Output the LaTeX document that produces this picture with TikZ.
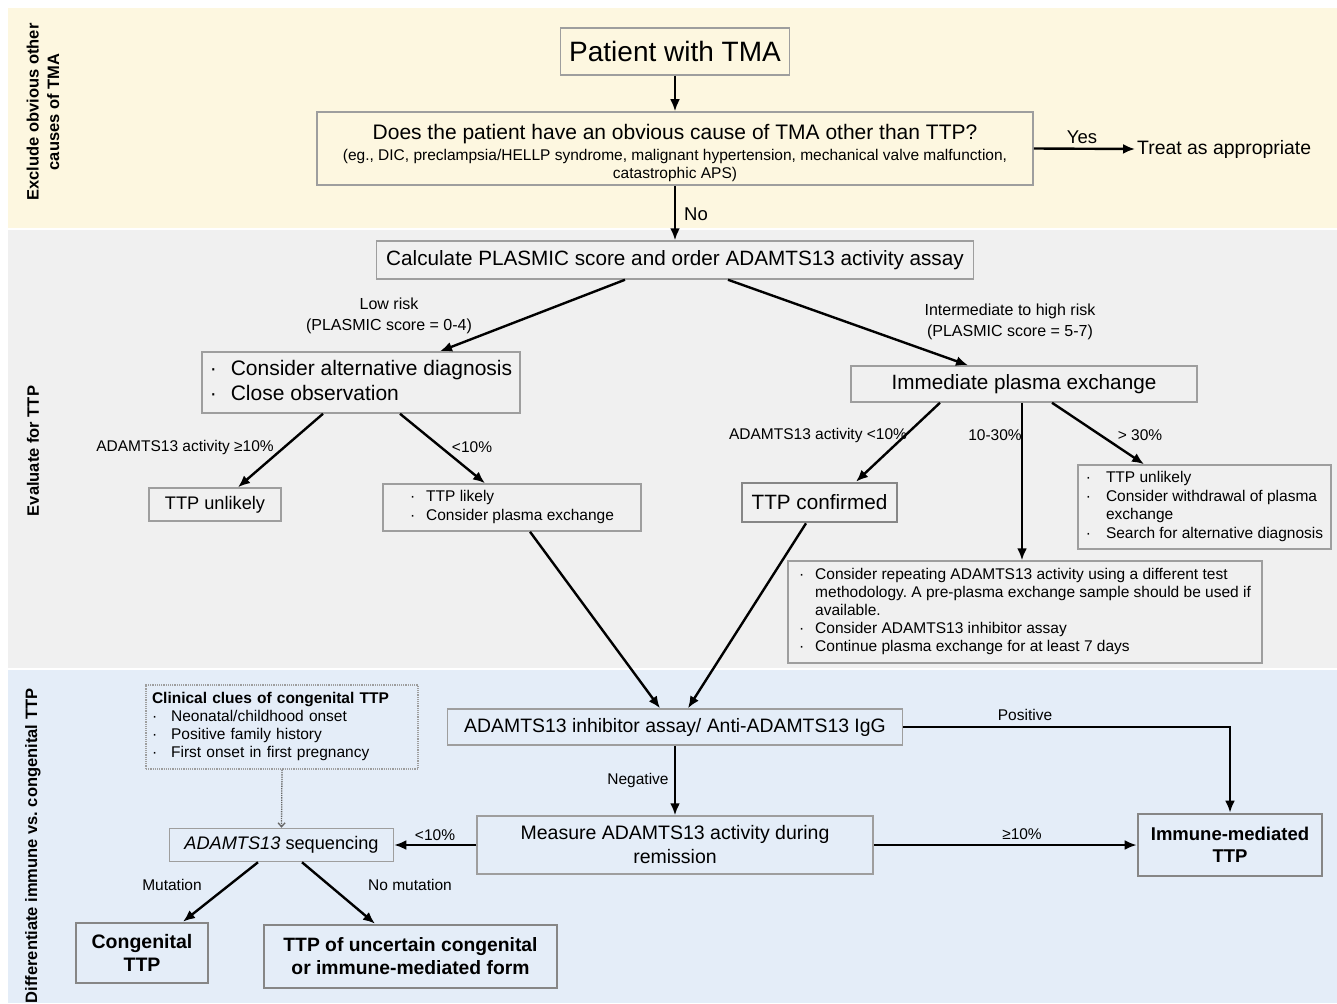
\documentclass[tikz,border=0pt]{standalone}
\usepackage{fontspec}
\setmainfont{Liberation Sans}
\usetikzlibrary{arrows.meta}
\definecolor{bandyellow}{HTML}{FDF7E0}
\definecolor{bandgray}{HTML}{F0F0F0}
\definecolor{bandblue}{HTML}{E4EDF8}
\definecolor{boxline}{HTML}{9E9E9E}
\frenchspacing

\begin{document}
\begin{tikzpicture}[x=1pt,y=-1pt,
    flowbox/.style={draw=boxline,line width=1.5pt,inner sep=0pt,align=center},
    strongbox/.style={flowbox,draw=boxline!85!black,line width=2.6pt},
    lbl/.style={inner sep=0pt,align=center,font=\fontsize{15.5}{18.5}\selectfont},
    bandlabel/.style={rotate=90,inner sep=0pt,align=center,font=\bfseries\fontsize{16.5}{20.5}\selectfont},
    arrowline/.style={line width=2.4pt,-{Latex[length=12pt,width=10pt]}}]
  \useasboundingbox (0,0) rectangle (1337,1003);
  % bands
  \fill[bandyellow] (8,8) rectangle (1337,228);
  \fill[bandgray] (8,230) rectangle (1337,668);
  \fill[bandblue] (8,670) rectangle (1337,1003);
  \node[bandlabel] (bandA) at (43,112) {Exclude obvious other\\causes of TMA};
  \node[bandlabel] (bandB) at (33,451) {Evaluate for TTP};
  \node[bandlabel] (bandC) at (33,846) {Differentiate immune vs. congenital TTP};

  % boxes
  \node[flowbox,minimum width=229pt,minimum height=47pt,font=\fontsize{28}{32}\selectfont]
    (patient) at (675,51.5) {Patient with TMA};
  \node[flowbox,minimum width=716pt,minimum height=73pt,font=\fontsize{15.5}{18}\selectfont]
    (cause) at (675,148.5) {\rule{0pt}{24pt}{\fontsize{21}{24}\selectfont Does the patient have an obvious cause of TMA other than TTP?}\\[3pt]
    (eg., DIC, preclampsia/HELLP syndrome, malignant hypertension, mechanical valve malfunction,\\catastrophic APS)};
  \node[inner sep=2pt,anchor=west,font=\fontsize{19.4}{23}\selectfont] (treat) at (1135,149) {Treat as appropriate};
  \node[flowbox,minimum width=597pt,minimum height=38pt,font=\fontsize{20.7}{24}\selectfont]
    (plasmic) at (675,260) {Calculate PLASMIC score and order ADAMTS13 activity assay};
  \node[flowbox,minimum width=318pt,minimum height=61pt,font=\fontsize{21}{25}\selectfont]
    (lowrisk) at (361,382.5) {\begin{tabular}{@{}l@{\hspace{14pt}}l@{}}
      ·&Consider alternative diagnosis\\
      ·&Close observation
    \end{tabular}};
  \node[flowbox,minimum width=346pt,minimum height=36pt,font=\fontsize{20.7}{24}\selectfont]
    (exchange) at (1024,384) {Immediate plasma exchange};
  \node[flowbox,minimum width=132pt,minimum height=33pt,font=\fontsize{18.2}{22}\selectfont]
    (unlikely) at (215,504.5) {TTP unlikely};
  \node[flowbox,minimum width=258pt,minimum height=47pt,font=\fontsize{15.5}{19}\selectfont]
    (likely) at (512,507.5) {\begin{tabular}{@{}l@{\hspace{11pt}}l@{}}
      ·&TTP likely\\
      ·&Consider plasma exchange
    \end{tabular}};
  \node[strongbox,minimum width=155pt,minimum height=39pt,font=\fontsize{20.7}{24}\selectfont]
    (confirmed) at (819.5,502.5) {TTP confirmed};
  \node[flowbox,minimum width=253pt,minimum height=84pt,font=\fontsize{15.5}{18.5}\selectfont]
    (withdraw) at (1204.5,507) {\begin{tabular}{@{}l@{\hspace{15pt}}l@{}}
      ·&TTP unlikely\\
      ·&Consider withdrawal of plasma\\
       &exchange\\
      ·&Search for alternative diagnosis
    \end{tabular}};
  \node[flowbox,minimum width=474pt,minimum height=102pt,font=\fontsize{15.5}{18}\selectfont]
    (repeat) at (1025,612) {\begin{tabular}{@{}l@{\hspace{11pt}}l@{}}
      ·&Consider repeating ADAMTS13 activity using a different test\\
       &methodology. A pre-plasma exchange sample should be used if\\
       &available.\\
      ·&Consider ADAMTS13 inhibitor assay\\
      ·&Continue plasma exchange for at least 7 days
    \end{tabular}};
  \node[flowbox,minimum width=455pt,minimum height=36pt,font=\fontsize{19.4}{23}\selectfont]
    (inhibitor) at (675,727) {ADAMTS13 inhibitor assay/ Anti-ADAMTS13 IgG};
  \node[flowbox,minimum width=396pt,minimum height=58pt,font=\fontsize{19.5}{24}\selectfont]
    (remission) at (675,845) {Measure ADAMTS13 activity during\\remission};
  \node[strongbox,minimum width=184pt,minimum height=62pt,font=\bfseries\fontsize{18.5}{22.5}\selectfont]
    (immune) at (1230,845) {Immune-mediated\\TTP};
  \node[flowbox,minimum width=224pt,minimum height=33pt,font=\fontsize{18.2}{22}\selectfont]
    (sequencing) at (281.5,845) {\textit{ADAMTS13} sequencing};
  \node[draw=boxline,densely dotted,line width=1.2pt,text width=260pt,inner xsep=6pt,inner ysep=0pt,
    minimum height=84pt,align=left,font=\fontsize{15.5}{18}\selectfont]
    (clues) at (282,727) {\begin{tabular}{@{}l@{\hspace{14pt}}l@{}}
      \multicolumn{2}{@{}l@{}}{\bfseries Clinical clues of congenital TTP}\\
      ·&Neonatal/childhood onset\\
      ·&Positive family history\\
      ·&First onset in first pregnancy
    \end{tabular}};
  \node[strongbox,minimum width=132pt,minimum height=60pt,font=\bfseries\fontsize{19.5}{23}\selectfont]
    (congenital) at (142,953) {Congenital\\TTP};
  \node[strongbox,minimum width=293pt,minimum height=63pt,font=\bfseries\fontsize{19.3}{23}\selectfont]
    (uncertain) at (410.5,956.5) {TTP of uncertain congenital\\or immune-mediated form};

  % labels
  \node[lbl,font=\fontsize{18.5}{22}\selectfont] (yes) at (1082,137) {Yes};
  \node[lbl,anchor=west,font=\fontsize{18.5}{22}\selectfont] (no) at (684,214) {No};
  \node[lbl,font=\fontsize{16}{21}\selectfont] (lowlbl) at (389,316) {Low risk\\(PLASMIC score = 0-4)};
  \node[lbl,font=\fontsize{16}{21}\selectfont] (highlbl) at (1010,322) {Intermediate to high risk\\(PLASMIC score = 5-7)};
  \node[lbl] (hi10) at (185,447) {ADAMTS13 activity ≥10\%};
  \node[lbl] (lo10) at (472,447) {<10\%};
  \node[lbl] (conf10) at (818,435) {ADAMTS13 activity <10\%};
  \node[lbl] (mid30) at (995,435) {10-30\%};
  \node[lbl] (over30) at (1140,435) {> 30\%};
  \node[lbl] (pos) at (1025,715) {Positive};
  \node[lbl] (neg) at (638,780) {Negative};
  \node[lbl] (remhi) at (1022,834) {≥10\%};
  \node[lbl] (remlo) at (435,835) {<10\%};
  \node[lbl] (mut) at (172,885) {Mutation};
  \node[lbl] (nomut) at (410,885) {No mutation};

  \begin{scope}[arrowline]
    \draw (patient) -- (cause);
    \draw (cause.east) -- (treat.west);
    \draw (cause.south) -- (plasmic.north);
    \draw ([xshift=-50pt]plasmic.south) -- ([xshift=79pt]lowrisk.north);
    \draw ([xshift=53pt]plasmic.south) -- ([xshift=-56pt]exchange.north);
    \draw ([xshift=-38pt]lowrisk.south) -- ([xshift=23pt]unlikely.north);
    \draw ([xshift=39pt]lowrisk.south) -- ([xshift=-27pt]likely.north);
    \draw ([xshift=-84pt]exchange.south) -- ([xshift=36.5pt]confirmed.north);
    \draw ([xshift=-2pt]exchange.south) -- ([xshift=-3pt]repeat.north);
    \draw ([xshift=28pt]exchange.south) -- ([xshift=-60.5pt]withdraw.north);
    \draw ([xshift=18pt]likely.south) -- ([xshift=-15pt]inhibitor.north);
    \draw ([xshift=-13.5pt]confirmed.south) -- ([xshift=13pt]inhibitor.north);
    \draw (inhibitor.east) -| (immune.north);
    \draw (inhibitor.south) -- (remission.north);
    \draw (remission.east) -- (immune.west);
    \draw (remission.west) -- (sequencing.east);
    \draw ([xshift=-23.5pt]sequencing.south) -- ([xshift=41pt]congenital.north);
    \draw ([xshift=20.5pt]sequencing.south) -- ([xshift=-35.5pt]uncertain.north);
  \end{scope}
  \draw[draw=black!60,densely dotted,line width=1.3pt,-{Straight Barb[length=4pt,width=7pt]}] (clues.south) -- (sequencing.north);
\end{tikzpicture}
\end{document}
